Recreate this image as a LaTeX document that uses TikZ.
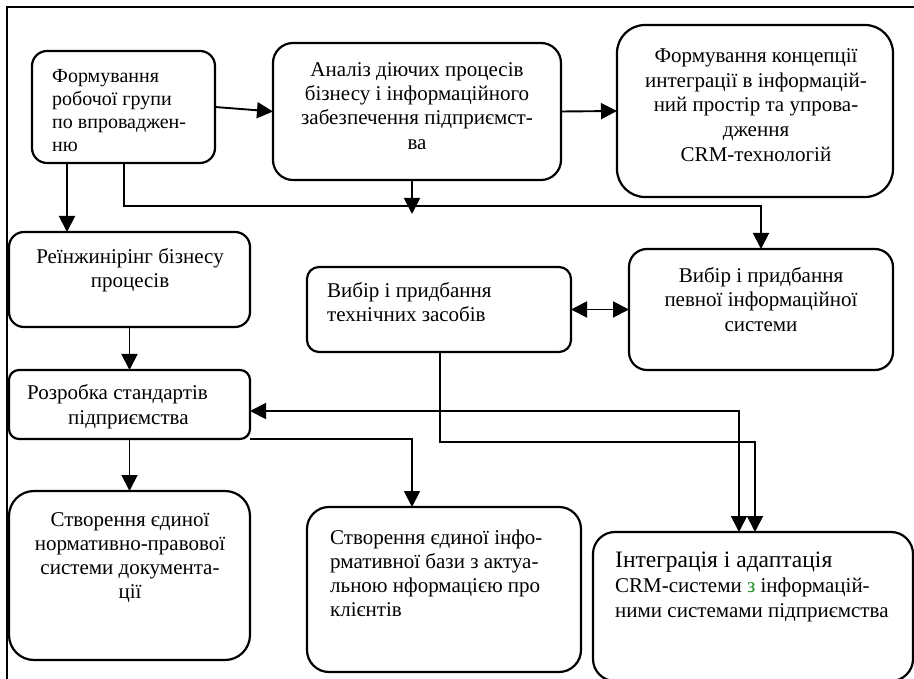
\documentclass[tikz,border=0pt]{standalone}
\usepackage{fontspec}
\setmainfont{Liberation Serif}
\usetikzlibrary{arrows.meta}
\definecolor{zgreen}{RGB}{30,140,30}
\begin{document}
\begin{tikzpicture}[x=1pt,y=-1pt,
  box/.style={draw,line width=2.2pt,inner sep=0pt,outer sep=0pt},
  txt/.style={inner sep=0pt,font=\fontsize{21}{24}\selectfont},
  arr/.style={line width=1.9pt,-{Triangle[length=16pt,width=16pt]}},
  arrboth/.style={line width=1.9pt,{Triangle[length=16pt,width=16pt]}-{Triangle[length=16pt,width=16pt]}}]
\useasboundingbox (0,0) rectangle (914,679);
\clip (0,0) rectangle (914,679);
% frame
\draw[line width=2.5pt] (7,685) -- (7,7) -- (920,7);
% boxes
\node[box,rounded corners=15pt,minimum width=183pt,minimum height=112pt] (b1) at (123.5,107) {};
\node[box,rounded corners=20pt,minimum width=288pt,minimum height=137pt] (b2) at (417,111.5) {};
\node[box,rounded corners=28pt,minimum width=276pt,minimum height=172pt] (b3) at (755,111) {};
\node[box,rounded corners=15pt,minimum width=241pt,minimum height=95pt] (b4) at (129.5,279.5) {};
\node[box,rounded corners=12pt,minimum width=264pt,minimum height=85pt] (b5) at (439,309.5) {};
\node[box,rounded corners=18pt,minimum width=264pt,minimum height=121pt] (b6) at (761,309.5) {};
\node[box,rounded corners=10pt,minimum width=241pt,minimum height=69pt] (b7) at (129.5,404.5) {};
\node[box,rounded corners=25pt,minimum width=241pt,minimum height=169pt] (b10) at (129.5,575.5) {};
\node[box,rounded corners=22pt,minimum width=274pt,minimum height=165pt] (b8) at (444,589.5) {};
\node[box,rounded corners=22pt,minimum width=320pt,minimum height=149pt] (b9) at (753,606.5) {};
% texts
\node[txt,align=left,anchor=north west,font=\fontsize{20}{23}\selectfont] (t1) at (52,66) {\strut Формування\\\strut робочої групи\\\strut по впроваджен-\\\strut ню};
\node[txt,align=center,anchor=north,font=\fontsize{21}{24.3}\selectfont] (t2) at (417,59) {\strut Аналіз діючих процесів\\\strut бізнесу і інформаційного\\\strut забезпечення підприємст-\\\strut ва};
\node[txt,align=center,anchor=north,font=\fontsize{21}{24.7}\selectfont] (t3) at (756,45) {\strut Формування концепції\\\strut интеграції в інформацій-\\\strut ний простір та упрова-\\\strut дження\\\strut CRM-технологій};
\node[txt,align=center,anchor=north] (t4) at (130,247) {\strut Реїнжинірінг бізнесу\\\strut процесів};
\node[txt,align=left,anchor=north west] (t5) at (327,281) {\strut Вибір і придбання\\\strut технічних засобів};
\node[txt,align=center,anchor=north,font=\fontsize{21}{24.5}\selectfont] (t6) at (761,265) {\strut Вибір і придбання\\\strut певної інформаційної\\\strut системи};
\node[txt,align=left,anchor=north west,font=\fontsize{21}{25}\selectfont] (t7) at (27,382) {\strut Розробка стандартів\\\strut\hspace*{41pt}підприємства};
\node[txt,align=center,anchor=north] (t10) at (130,509) {\strut Створення єдиної\\\strut нормативно-правової\\\strut системи документа-\\\strut ції};
\node[txt,align=left,anchor=north west] (t8) at (330,527) {\strut Створення єдиної інфо-\\\strut рмативної бази з актуа-\\\strut льною нформацією про\\\strut клієнтів};
\node[txt,align=left,anchor=north west,font=\fontsize{21}{25}\selectfont] (t9) at (615,550) {\strut{\fontsize{23.5}{25}\selectfont Інтеграція і адаптація}\\\strut CRM-системи \textcolor{zgreen}{з} інформацій-\\\strut ними системами підприємства};
% helper coordinates
\coordinate (x67) at (67,0);
\coordinate (x124) at (124,0);
\coordinate (x412) at (412,0);
\coordinate (x440) at (440,0);
\coordinate (x739) at (739,0);
\coordinate (x755) at (755,0);
\coordinate (y206) at (0,206);
\coordinate (y411) at (0,411);
\coordinate (y442) at (0,442);
\coordinate (e1) at (412,214);
% connectors
\draw[arr] (b1.east) -- (b2.west);
\draw[arr] (b2.east) -- (b3.west);
\draw[arr] (b1.south -| x67) -- (b4.north -| x67);
\draw[arr] (b1.south -| x124) |- (y206 -| b6.north) -- (b6.north);
\draw[arr] (b2.south -| x412) -- (e1);
\draw[arr] (b4.south) -- (b7.north);
\draw[arrboth] (b5.east) -- (b6.west);
\draw[arrboth] (b7.east |- y411) -| (b9.north -| x739);
\draw[arr] (b5.south -| x440) |- (x755 |- y442) -- (b9.north -| x755);
\draw[arr] (b7.south east) -| (b8.north -| x412);
\draw[arr] (b7.south) -- (b10.north);
\end{tikzpicture}
\end{document}
